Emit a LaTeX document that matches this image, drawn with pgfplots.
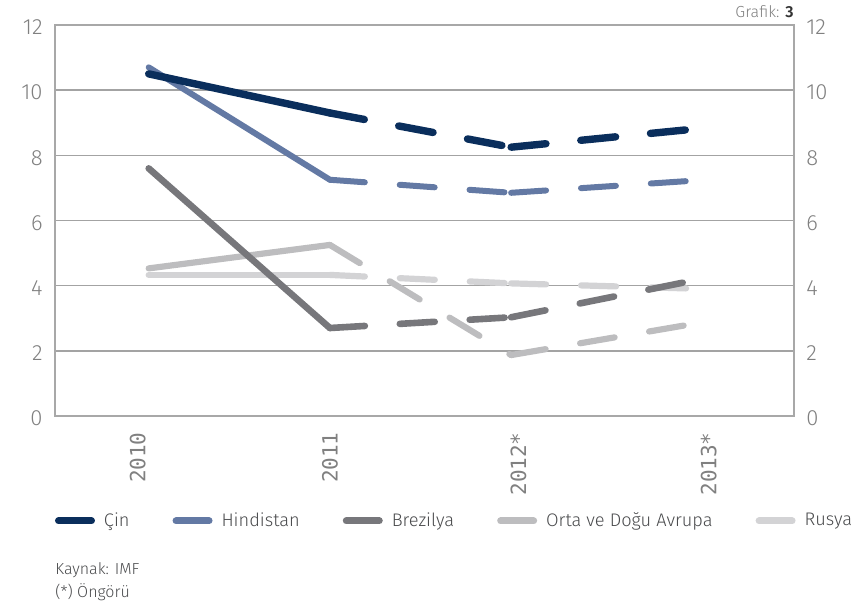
\documentclass[border=0pt]{standalone}
\usepackage{fontspec}
\usepackage{pgfplots}
\usepackage{pgfplotstable}
\pgfplotsset{compat=1.18}
\setmainfont{Fira Sans}
\newfontfamily\lightfont{Fira Sans Light}
\newfontfamily\labelmono{DejaVu Sans Mono}

\definecolor{cin}{HTML}{0A2E5C}
\definecolor{hind}{HTML}{6379A4}
\definecolor{brez}{HTML}{77777B}
\definecolor{orta}{HTML}{BDBDBF}
\definecolor{rus}{HTML}{D3D3D5}
\definecolor{gridgray}{HTML}{A3A3A3}
\definecolor{axisgray}{HTML}{A8A8A8}
\definecolor{tickgray}{HTML}{808080}
\definecolor{textgray}{HTML}{4A4B4D}

% Real GDP growth (%), 2012 and 2013 are forecasts
\pgfplotstableread{
x    cin   hind  brez  orta  rus
0    10.5  10.7  7.6   4.53  4.33
1    9.3   7.25  2.7   5.25  4.33
2    8.25  6.85  3.03  1.87  4.07
3    8.8   7.22  4.15  2.82  3.91
}\growth

\pgfplotsset{
  seg/.style={line cap=round, line join=round, mark=none},
  dashseg/.style={seg, dash pattern=on 17.5pt off 17.5pt},
}

% solid for actual years, dashed for forecast segments
\newcommand\series[2]{%
  \addplot[#2, seg, forget plot] table[x=x, y=#1, restrict x to domain=0:1]{\growth};
  \addplot[#2, dashseg, forget plot] table[x=x, y=#1, restrict x to domain=1:2]{\growth};
  \addplot[#2, dashseg, forget plot] table[x=x, y=#1, restrict x to domain=2:3]{\growth};
}

\begin{document}
\begin{tikzpicture}
\useasboundingbox (0,0) rectangle (429.5pt,-304pt);

\begin{axis}[
  at={(27.5pt,-12.5pt)}, anchor=north west,
  scale only axis, width=369.5pt, height=195.5pt,
  xmin=-0.517, xmax=3.561, ymin=0, ymax=12,
  xtick={-0.06,1,2.04,3.09},
  xticklabels={2010,2011,2012*,2013*},
  ytick={0,2,...,12},
  ymajorgrids,
  major grid style={draw=gridgray, line width=0.75pt},
  axis line style={draw=axisgray, line width=0.8pt},
  major tick length=0pt,
  tick style={draw=none},
  /pgf/number format/assume math mode=true,
  yticklabel style={font=\lightfont\fontsize{11}{11}\selectfont, text=tickgray,
    inner sep=0pt, yshift=-1.2pt},
  yticklabel shift=6pt,
  xticklabel style={rotate=90, anchor=east, inner sep=0pt,
    font=\labelmono\fontsize{10.5}{10.5}\selectfont, text=tickgray},
  xticklabel shift=8pt,
  legend columns=5,
  legend cell align=left,
  legend style={at={(axis description cs:0,-0.2685)}, anchor=west,
    draw=none, fill=none, inner sep=0pt, outer sep=0pt,
    font=\lightfont\fontsize{9.1}{11}\selectfont, text=textgray,
    /tikz/every even column/.append style={column sep=19.5pt}},
  legend image code/.code={%
    \path[draw=none] (0pt,0pt) -- (22.5pt,0pt);
    \draw[#1, solid, line width=3.5pt, line cap=round] (1.75pt,0pt) -- (18.25pt,0pt);},
]
\addlegendimage{cin}      \addlegendentry{Çin}
\addlegendimage{hind}     \addlegendentry{Hindistan}
\addlegendimage{brez}     \addlegendentry{Brezilya}
\addlegendimage{orta}     \addlegendentry{Orta ve Doğu Avrupa}
\addlegendimage{rus}      \addlegendentry{Rusya}

\series{rus}{rus, line width=3.1pt}
\series{orta}{orta, line width=3.1pt}
\series{brez}{brez, line width=3.3pt}
\series{hind}{hind, line width=3.0pt}
\series{cin}{cin, line width=3.7pt}
\end{axis}

% right-hand scale
\begin{axis}[
  at={(27.5pt,-12.5pt)}, anchor=north west,
  scale only axis, width=369.5pt, height=195.5pt,
  xmin=-0.517, xmax=3.561, ymin=0, ymax=12,
  axis x line=none, axis y line*=right,
  axis line style={draw=axisgray, line width=0.8pt},
  ytick={0,2,...,12},
  major tick length=0pt, tick style={draw=none},
  /pgf/number format/assume math mode=true,
  yticklabel style={font=\lightfont\fontsize{11}{11}\selectfont, text=tickgray,
    inner sep=0pt, yshift=-1.2pt},
  yticklabel shift=6pt,
]
\end{axis}

\node[anchor=base east, inner sep=0pt, text=tickgray,
  font=\lightfont\fontsize{8}{8}\selectfont] at (397pt,-9pt)
  {Grafik: \textcolor{black!80}{\fontspec{Fira Sans SemiBold}3}};
\node[anchor=base west, inner sep=0pt, text=textgray,
  font=\lightfont\fontsize{8}{8}\selectfont] at (27.5pt,-287.5pt) {Kaynak: IMF};
\node[anchor=base west, inner sep=0pt, text=textgray,
  font=\lightfont\fontsize{8}{8}\selectfont] at (27.5pt,-299pt) {(*) Öngörü};
\end{tikzpicture}
\end{document}
